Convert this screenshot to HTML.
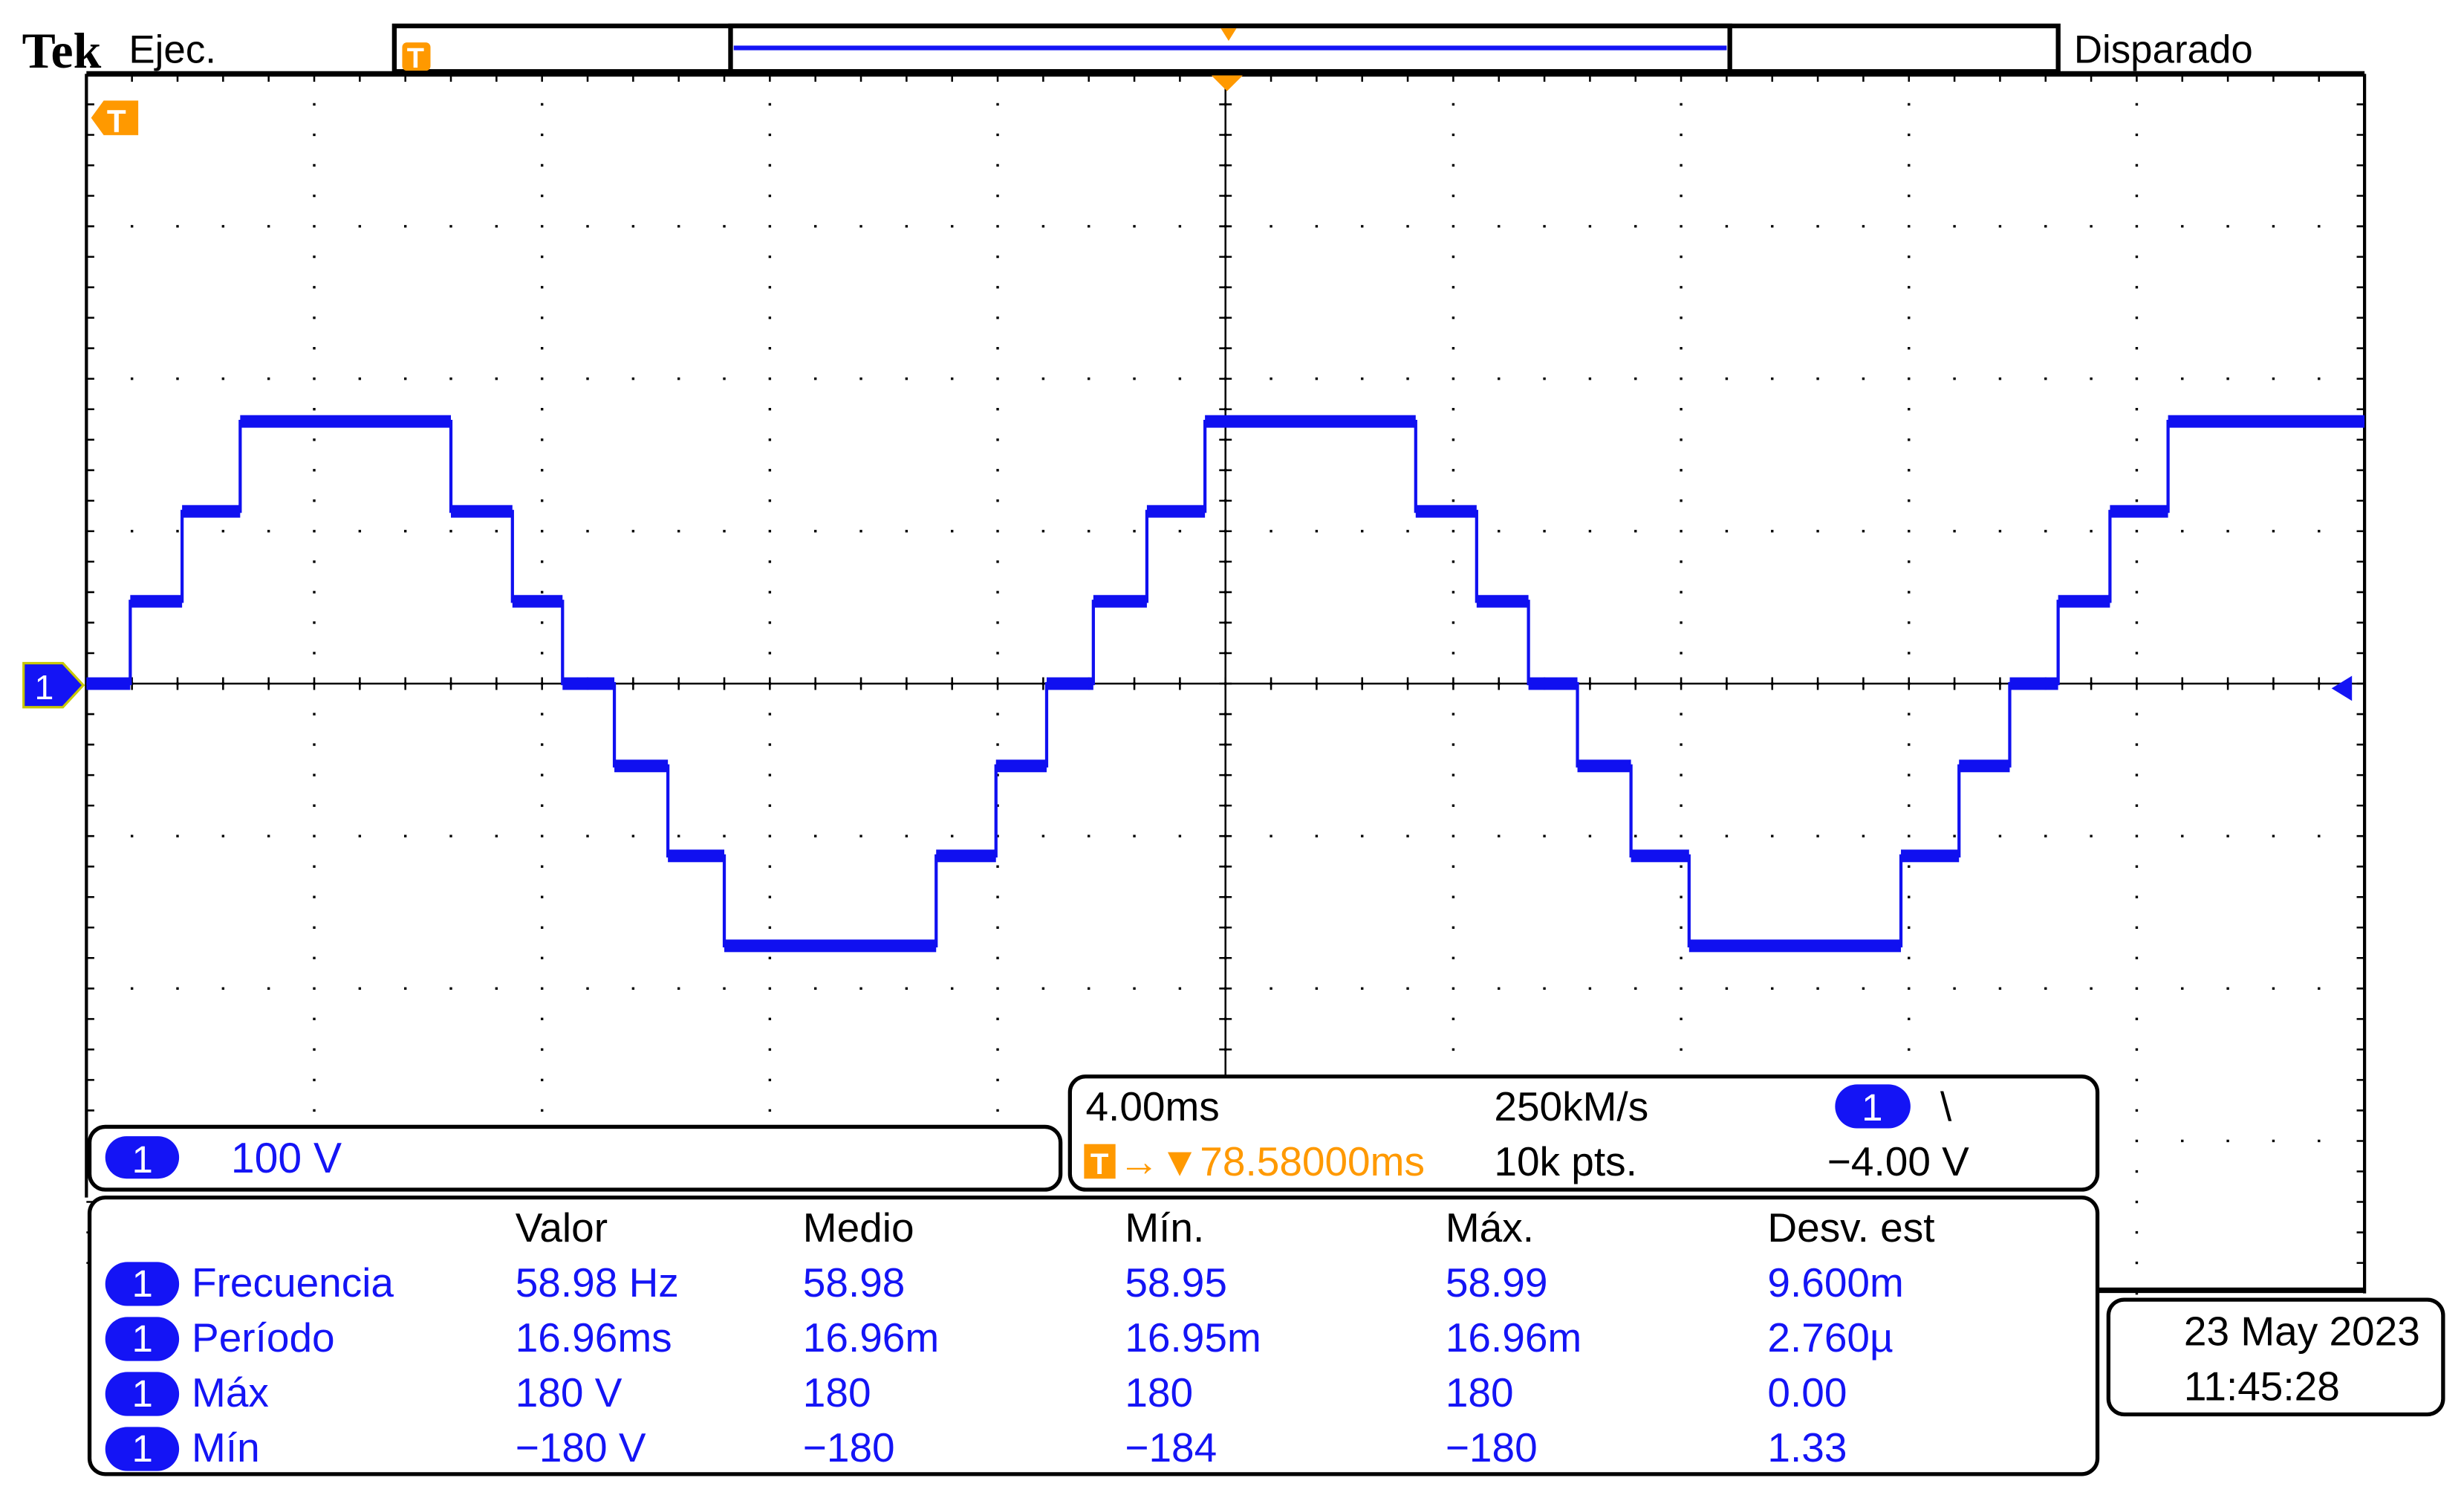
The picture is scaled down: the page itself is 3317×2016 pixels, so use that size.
<!DOCTYPE html>
<html><head><meta charset="utf-8"><title>Tek scope</title>
<style>
html,body{margin:0;padding:0;background:#fff;}
svg{display:block;}
text{font-family:"Liberation Sans Narrow","Liberation Sans",sans-serif;}
</style></head>
<body>
<svg id="scope" width="3317" height="2016" viewBox="0 0 1568.3 953.2" preserveAspectRatio="none" xmlns="http://www.w3.org/2000/svg">
<rect x="0" y="0" width="1568.3" height="953.2" fill="#fff"/>
<g id="grid"></g>
<g id="trace"></g>

<text x="14" y="43" font-weight="bold" font-size="32" fill="#000" style="font-family:'Liberation Serif',serif">Tek</text>
<text x="82" y="40" font-size="25" fill="#000">Ejec.</text>
<g>
<rect x="251" y="16.5" width="1059" height="29" fill="#fff" stroke="#000" stroke-width="3"/>
<rect x="465" y="16.5" width="636" height="29" fill="none" stroke="#000" stroke-width="3"/>
<line x1="467" y1="30.5" x2="1099" y2="30.5" stroke="#1414f5" stroke-width="3"/>
<polygon points="777,18 787,18 782,26" fill="#ff9900"/>
<rect x="256" y="27" width="18" height="18" rx="3" fill="#ff9900"/>
<text x="259" y="43" font-size="18" font-weight="bold" fill="#fff">T</text>
</g>
<text x="1320" y="40" font-size="25" fill="#000">Disparado</text>

<g>
<polygon points="58,75 66,64 88,64 88,86 66,86" fill="#ff9900"/>
<text x="68" y="84" font-size="20" font-weight="bold" fill="#fff">T</text>
</g>
<polygon points="771,48 791,48 781,58" fill="#ff9900"/>
<g>
<polygon points="15,422 40,422 53,436 40,450 15,450" fill="#1414f5" stroke="#c8c800" stroke-width="1.5"/>
<text x="22" y="445" font-size="22" fill="#fff">1</text>
</g>
<polygon points="1484,438 1497,430 1497,446" fill="#1414f5"/>

<g>
<rect x="57" y="717" width="618" height="40" rx="10" fill="#fff" stroke="#000" stroke-width="2.5"/>
<rect x="67" y="723" width="47" height="27" rx="13.5" fill="#1414f5"/>
<text x="84" y="746" font-size="24" fill="#fff">1</text>
<text x="147" y="746" font-size="27" fill="#1414f5">100 V</text>
</g>

<g>
<rect x="681" y="685" width="654" height="72" rx="10" fill="#fff" stroke="#000" stroke-width="2.5"/>
<text x="691" y="713" font-size="26" fill="#000">4.00ms</text>
<text x="951" y="713" font-size="26" fill="#000">250kM/s</text>
<rect x="1168" y="690" width="48" height="28" rx="14" fill="#1414f5"/>
<text x="1185" y="713" font-size="24" fill="#fff">1</text>
<text x="1235" y="713" font-size="26" fill="#000">\</text>
<rect x="690" y="728" width="20" height="22" fill="#ff9900"/>
<text x="694" y="747" font-size="19" font-weight="bold" fill="#fff">T</text>
<text x="712" y="748" font-size="26" fill="#ff9900">→▼78.58000ms</text>
<text x="951" y="748" font-size="26" fill="#000">10k pts.</text>
<text x="1163" y="748" font-size="26" fill="#000">−4.00 V</text>
</g>

<g>
<rect x="57" y="762" width="1278" height="176" rx="10" fill="#fff" stroke="#000" stroke-width="2.5"/>
<g font-size="26" fill="#000">
<text x="328" y="790">Valor</text><text x="511" y="790">Medio</text><text x="716" y="790">Mín.</text><text x="920" y="790">Máx.</text><text x="1125" y="790">Desv. est</text>
</g>
<g id="mrows" font-size="26" fill="#1414f5"></g>
</g>

<g>
<rect x="1342" y="827" width="213" height="73" rx="10" fill="#fff" stroke="#000" stroke-width="2.5"/>
<text x="1390" y="856" font-size="26" fill="#000">23 May  2023</text>
<text x="1390" y="891" font-size="26" fill="#000">11:45:28</text>
</g>
</svg>
<script>
// ---- chart data ----
const stepTimesMs = [0, 0.77, 1.68, 2.70, 6.40, 7.48, 8.36, 9.27, 10.21, 11.20, 14.92, 15.97, 16.86, 17.68, 18.62, 19.64, 23.34, 24.41, 25.32, 26.18, 27.12, 28.14, 31.86, 32.88, 33.77, 34.62, 35.53, 36.55];
const stepVolts   = [0, 54, 113, 172, 113, 54, 0, -54, -113, -172, -113, -54, 0, 54, 113, 172, 113, 54, 0, -54, -113, -172, -113, -54, 0, 54, 113, 172];
const endTimeMs = 40;
const measLabels = ["Frecuencia", "Período", "Máx", "Mín"];
const measValor = ["58.98 Hz", "16.96ms", "180 V", "−180 V"];
const measMedio = ["58.98", "16.96m", "180", "−180"];
const measMin = ["58.95", "16.95m", "180", "−184"];
const measMax = ["58.99", "16.96m", "180", "−180"];
const measStd = ["9.600m", "2.760µ", "0.00", "1.33"];

const NS = "http://www.w3.org/2000/svg";
const L = 55, R = 1505, T = 47, B = 823;
const CX = (L + R) / 2, CY = (T + B) / 2;
const msPerDiv = 4, vPerDiv = 100;
const divW = (R - L) / 10, divH = (B - T) / 8;
const xOf = t => L + t / msPerDiv * divW;
const yOf = v => CY - v / vPerDiv * divH;

function mk(tag, attrs, parent) {
  const e = document.createElementNS(NS, tag);
  for (const k in attrs) e.setAttribute(k, attrs[k]);
  parent.appendChild(e);
  return e;
}
const g = document.getElementById('grid');
let d = "";
for (let i = 1; i < 10; i++) {
  const x = L + i * divW;
  for (let j = 0; j <= 40; j++) { const y = T + j * divH / 5; d += `M${x-0.8},${y-0.8}h1.6v1.6h-1.6z`; }
}
for (let j = 1; j < 8; j++) {
  const y = T + j * divH;
  for (let i = 0; i <= 50; i++) { const x = L + i * divW / 5; d += `M${x-0.8},${y-0.8}h1.6v1.6h-1.6z`; }
}
for (let i = 1; i < 50; i++) { const x = L + i * divW / 5; d += `M${x-0.6},${T}h1.2v5h-1.2z`; }
for (let j = 1; j < 40; j++) { const y = T + j * divH / 5; d += `M${L},${y-0.6}h5v1.2h-5z`; d += `M${R-5},${y-0.6}h5v1.2h-5z`; }
for (let i = 1; i < 50; i++) { const x = L + i * divW / 5; d += `M${x-0.6},${CY-4}h1.2v8h-1.2z`; }
for (let j = 1; j < 40; j++) { const y = T + j * divH / 5; d += `M${CX-4},${y-0.6}h8v1.2h-8z`; }
const dots = mk('path', {d: d, fill: '#000'}, g);


const ax1 = mk('line', {x1: L, y1: CY, x2: R, y2: CY, stroke: '#000', 'stroke-width': 1.2}, g);


const ax2 = mk('line', {x1: CX, y1: T, x2: CX, y2: 685, stroke: '#000', 'stroke-width': 1.2}, g);


const bd = mk('path', {d: `M${L},${T}V762M${R},${T}V${B}`, stroke: '#000', 'stroke-width': 2, fill: 'none'}, g);


const bt = mk('path', {d: `M${L},${T}H${R}M1335,${B-2}H${R}`, stroke: '#000', 'stroke-width': 3.5, fill: 'none'}, g);



const tr = document.getElementById('trace');
let p = "";
for (let i = 0; i < stepTimesMs.length; i++) {
  const x0 = xOf(stepTimesMs[i]);
  const x1 = xOf(i + 1 < stepTimesMs.length ? stepTimesMs[i + 1] : endTimeMs);
  const y = yOf(stepVolts[i]);
  p += (i === 0 ? `M${x0},${y}` : `V${y}`) + `H${x1}`;
}
const line = mk('path', {d: p, fill: 'none', stroke: '#1010f0', 'stroke-width': 2}, tr);


for (let i = 0; i < stepTimesMs.length; i++) {
  const x0 = xOf(stepTimesMs[i]);
  const x1 = xOf(i + 1 < stepTimesMs.length ? stepTimesMs[i + 1] : endTimeMs);
  const y = yOf(stepVolts[i]);
  const band = mk('rect', {x: x0, y: y - 4, width: x1 - x0, height: 8, fill: '#1010f0'}, tr);
  
  
}

const mr = document.getElementById('mrows');
const cols = [328, 511, 716, 920, 1125];
for (let r = 0; r < measLabels.length; r++) {
  const y = 825 + r * 35;
  const pill = mk('rect', {x: 67, y: y - 22, width: 47, height: 28, rx: 14, fill: '#1414f5'}, mr);
  
  
  const one = mk('text', {x: 84, y: y, fill: '#fff', 'font-size': 24}, mr);
  one.textContent = '1';
  
  
  const lab = mk('text', {x: 122, y: y}, mr);
  lab.textContent = measLabels[r];
  
  
  const vals = [measValor[r], measMedio[r], measMin[r], measMax[r], measStd[r]];
  for (let c = 0; c < 5; c++) {
    const t = mk('text', {x: cols[c], y: y}, mr);
    t.textContent = vals[c];
    
    
  }
}
</script>
</body></html>
